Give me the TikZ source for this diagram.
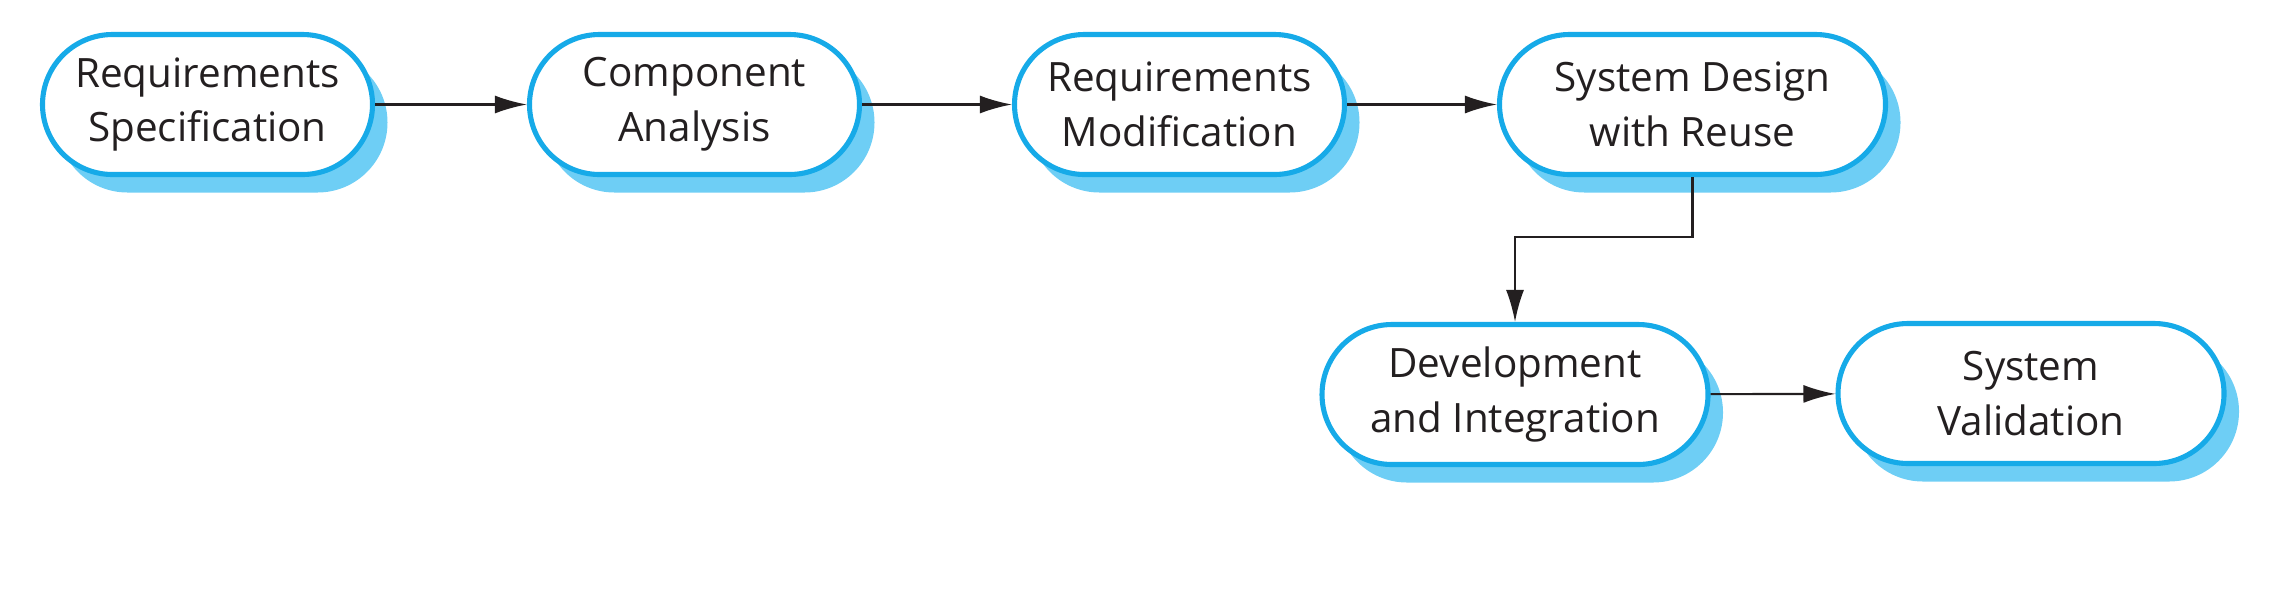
\documentclass[tikz,border=0pt]{standalone}
\usepackage{fontspec}
\setmainfont{Open Sans}
\usetikzlibrary{arrows.meta,shadows}
\definecolor{bordblue}{RGB}{22,170,232}
\definecolor{shadblue}{RGB}{110,206,245}
\definecolor{txt}{RGB}{35,31,32}
\tikzset{
  proc/.style={draw=bordblue, line width=1.45pt, fill=white, rounded corners=0.70cm,
    minimum height=1.40cm, align=center, text=txt, inner sep=0pt,
    font=\fontsize{11.5pt}{15.6pt}\selectfont,
    drop shadow={shadow xshift=0.15cm, shadow yshift=-0.18cm, fill=shadblue, draw=none, opacity=1}},
  narrow/.style={proc, minimum width=3.30cm},
  wide/.style={proc, minimum width=3.86cm},
  arr/.style={draw=txt, line width=0.6pt, -{Latex[length=3.2mm,width=1.8mm]}}
}
\begin{document}
\begin{tikzpicture}
\useasboundingbox (0,0) rectangle (22.9,-5.94);
\node[narrow] (n1) at (2.075,-1.045) {Requirements\\Specification};
\node[narrow] (n2) at (6.945,-1.045) {Component\\Analysis};
\node[narrow] (n3) at (11.795,-1.045) {Requirements\\Modification};
\node[wide] (n4) at (16.925,-1.045) {System Design\\with Reuse};
\node[wide] (n5) at (15.15,-3.945) {Development\\and Integration};
\node[wide] (n6) at (20.31,-3.935) {System\\Validation};
\draw[arr] (n1) -- (n2);
\draw[arr] (n2) -- (n3);
\draw[arr] (n3) -- (n4);
\draw[arr] (n4.south) -- ++(0,-0.6) -| (n5.north);
\draw[arr] (n5) -- (n6);
\end{tikzpicture}
\end{document}
